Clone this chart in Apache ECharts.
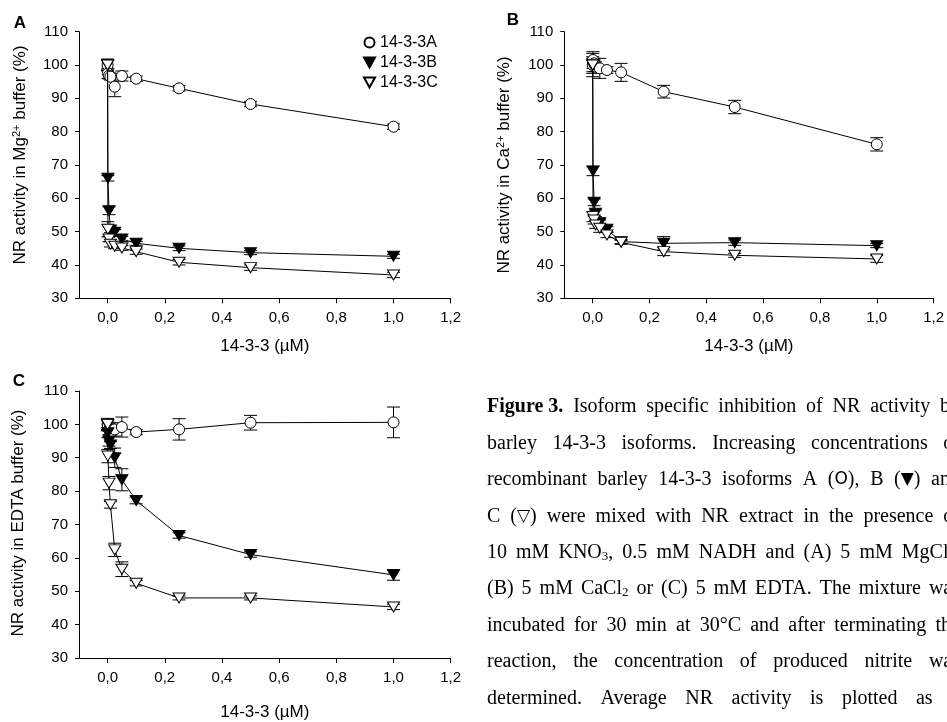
<!DOCTYPE html>
<html>
<head>
<meta charset="utf-8">
<script src="https://cdn.jsdelivr.net/npm/echarts@6.0.0/dist/echarts.min.js"></script>
<style>
  html, body { margin: 0; padding: 0; background: #fff; }
  #chart { width: 947px; height: 722px; }
</style>
</head>
<body>
<div id="chart"></div>
<script>
// 14-3-3 concentrations (µM)
const concentration = [0, 0.001, 0.005, 0.01, 0.025, 0.05, 0.1, 0.25, 0.5, 1.0];

// (A) Mg2+ buffer: NR activity (%) and SD
const mgA    = [100, 97.5, 96.8, 96.5, 93.5, 96.7, 95.9, 93.0, 88.3, 81.5];
const mgAErr = [1.5, 1.5, 1.0, 1.0, 3.0, 1.5, 0.8, 0.8, 0.8, 0.8];
const mgB    = [100, 66.0, 56.3, 50.5, 49.8, 47.8, 46.5, 45.0, 43.7, 42.6];
const mgBErr = [1.8, 0.8, 1.2, 0.8, 0.8, 0.8, 0.6, 0.7, 0.6, 0.6];
const mgC    = [100, 50.7, 47.8, 46.2, 45.6, 45.1, 44.0, 40.8, 39.2, 37.0];
const mgCErr = [1.5, 2.3, 0.8, 0.8, 0.7, 0.7, 0.8, 0.8, 0.8, 0.8];

// (B) Ca2+ buffer
const caA    = [100, 101.5, 100.5, 99.5, 99.0, 98.5, 97.8, 92.0, 87.4, 76.2];
const caAErr = [3.5, 2.5, 1.5, 1.5, 3.0, 1.0, 2.7, 1.9, 2.0, 2.0];
const caB    = [100, 68.2, 58.8, 55.5, 52.7, 50.7, 47.0, 46.5, 46.7, 45.8];
const caBErr = [2.5, 1.4, 1.0, 1.0, 0.8, 0.8, 0.6, 2.0, 0.8, 0.6];
const caC    = [100, 54.5, 53.5, 52.0, 51.0, 49.0, 46.8, 44.0, 42.9, 41.8];
const caCErr = [2.0, 1.5, 1.2, 1.0, 1.2, 0.8, 0.6, 1.2, 0.6, 1.0];

// (C) EDTA buffer
const edtaA    = [100, 99.5, 98.5, 97.5, 98.5, 99.2, 97.7, 98.5, 100.5, 100.6];
const edtaAErr = [1.8, 1.5, 1.5, 1.0, 2.0, 3.0, 0.8, 3.2, 2.2, 4.6];
const edtaB    = [100, 97.5, 95.0, 93.8, 90.0, 83.4, 77.2, 66.7, 61.0, 54.9];
const edtaBErr = [1.5, 1.5, 1.5, 1.0, 2.9, 3.3, 1.0, 0.8, 0.8, 1.6];
const edtaC    = [100, 90.5, 82.4, 75.9, 62.4, 56.6, 52.4, 48.0, 48.0, 45.3];
const edtaCErr = [1.5, 2.0, 2.0, 1.0, 2.0, 2.2, 0.8, 0.6, 0.6, 0.8];

const seriesNames = ['14-3-3A', '14-3-3B', '14-3-3C'];
const xTickValues = [0, 0.2, 0.4, 0.6, 0.8, 1.0, 1.2];
const xAxisTitle = '14-3-3 (µM)';
const panelLetters = ['A', 'B', 'C'];
const yAxisTitles = [
  'NR activity in Mg{sup|2+} buffer (%)',
  'NR activity in Ca{sup|2+} buffer (%)',
  'NR activity in EDTA buffer (%)'
];

// Figure legend text, one array of words per printed line
const captionLines = [
  ['{b|Figure 3.}', 'Isoform', 'specific', 'inhibition', 'of', 'NR', 'activity', 'by'],
  ['barley', '14-3-3', 'isoforms.', 'Increasing', 'concentrations', 'of'],
  ['recombinant', 'barley', '14-3-3', 'isoforms', 'A', '({s|O}),', 'B', '({s|▼})', 'and'],
  ['C', '({s|▽})', 'were', 'mixed', 'with', 'NR', 'extract', 'in', 'the', 'presence', 'of'],
  ['10', 'mM', 'KNO{sub|3},', '0.5', 'mM', 'NADH', 'and', '(A)', '5', 'mM', 'MgCl{sub|2},'],
  ['(B)', '5', 'mM', 'CaCl{sub|2}', 'or', '(C)', '5', 'mM', 'EDTA.', 'The', 'mixture', 'was'],
  ['incubated', 'for', '30', 'min', 'at', '30°C', 'and', 'after', 'terminating', 'the'],
  ['reaction,', 'the', 'concentration', 'of', 'produced', 'nitrite', 'was'],
  ['determined.', 'Average', 'NR', 'activity', 'is', 'plotted', 'as', 'a']
];

// ---------- layout & styles ----------
const SANS = 'Liberation Sans, Arial, sans-serif';
const SERIF = 'Liberation Serif, Times New Roman, serif';
const TRI = 'path://M0,0L10,0L5,9Z';

const panelValues = [[mgA, mgB, mgC], [caA, caB, caC], [edtaA, edtaB, edtaC]];
const panelErrors = [[mgAErr, mgBErr, mgCErr], [caAErr, caBErr, caCErr], [edtaAErr, edtaBErr, edtaCErr]];

const panelLayout = [
  { grid: { left: 79, top: 31.7, width: 371.7, height: 266.6 }, nameGap: 40, letter: [20, 23], title: [20, 155] },
  { grid: { left: 564.3, top: 31.7, width: 371.4, height: 266.6 }, nameGap: 40, letter: [513, 20], title: [504, 165] },
  { grid: { left: 79, top: 391, width: 371.7, height: 267.3 }, nameGap: 46, letter: [19, 381], title: [18, 523] }
];

const markers = [
  { symbol: 'circle', size: 11, fill: '#fff' },
  { symbol: TRI, size: [12, 10], fill: '#000' },
  { symbol: TRI, size: [12, 10], fill: '#fff' }
];

function errorBar(params, api) {
  const x = api.value(0);
  const top = api.coord([x, api.value(2)]);
  const bot = api.coord([x, api.value(1)]);
  const hw = 6.5;
  const st = { stroke: '#000', lineWidth: 1 };
  return {
    type: 'group',
    children: [
      { type: 'line', shape: { x1: top[0], y1: top[1], x2: bot[0], y2: bot[1] }, style: st },
      { type: 'line', shape: { x1: top[0] - hw, y1: top[1], x2: top[0] + hw, y2: top[1] }, style: st },
      { type: 'line', shape: { x1: bot[0] - hw, y1: bot[1], x2: bot[0] + hw, y2: bot[1] }, style: st }
    ]
  };
}

const grids = [], xAxes = [], yAxes = [], series = [], graphics = [];

panelLayout.forEach((p, pi) => {
  grids.push(Object.assign({ containLabel: false }, p.grid));
  xAxes.push({
    gridIndex: pi, type: 'value', min: -0.1, max: 1.2,
    axisLine: { onZero: false, lineStyle: { color: '#000', width: 1 } },
    axisTick: { customValues: xTickValues, length: 5, lineStyle: { color: '#000' } },
    axisLabel: {
      customValues: xTickValues, margin: 12, fontSize: 15, fontFamily: SANS, color: '#000',
      formatter: v => v.toFixed(1).replace('.', ',')
    },
    splitLine: { show: false },
    name: xAxisTitle, nameLocation: 'middle', nameGap: p.nameGap,
    nameTextStyle: { fontSize: 17, fontFamily: SANS, color: '#000' }
  });
  yAxes.push({
    gridIndex: pi, type: 'value', min: 30, max: 110, interval: 10,
    axisLine: { show: true, onZero: false, lineStyle: { color: '#000', width: 1 } },
    axisTick: { show: true, length: 4, lineStyle: { color: '#000' } },
    axisLabel: { margin: 11, fontSize: 15, fontFamily: SANS, color: '#000' },
    splitLine: { show: false }
  });

  panelValues[pi].forEach((vals, si) => {
    const errs = panelErrors[pi][si];
    series.push({
      type: 'custom', name: seriesNames[si] + ' SD',
      xAxisIndex: pi, yAxisIndex: pi, silent: true, z: 2,
      encode: { x: 0, y: [1, 2] },
      data: concentration.map((c, k) => [c, vals[k] - errs[k], vals[k] + errs[k]]),
      renderItem: errorBar
    });
    series.push({
      type: 'line', name: seriesNames[si],
      xAxisIndex: pi, yAxisIndex: pi, z: 3 + si,
      data: concentration.map((c, k) => [c, vals[k]]),
      symbol: markers[si].symbol, symbolSize: markers[si].size,
      lineStyle: { color: '#000', width: 1 },
      itemStyle: { color: markers[si].fill, borderColor: '#000', borderWidth: 1 },
      emphasis: { disabled: true }
    });
  });

  graphics.push({
    type: 'text', x: p.letter[0], y: p.letter[1],
    style: { text: panelLetters[pi], fontSize: 17, fontWeight: 'bold', fontFamily: SANS,
             fill: '#000', align: 'center', verticalAlign: 'middle' }
  });
  graphics.push({
    type: 'text', x: p.title[0], y: p.title[1], rotation: Math.PI / 2,
    style: {
      text: yAxisTitles[pi], fontSize: 17, fontFamily: SANS, fill: '#000',
      align: 'center', verticalAlign: 'middle',
      rich: { sup: { fontSize: 11, fontFamily: SANS, fill: '#000', verticalAlign: 'top', lineHeight: 8 } }
    }
  });
});

// ---------- justified figure legend ----------
const capFont = { size: 20, family: SERIF };
const capRich = {
  b:   { fontSize: 20, fontWeight: 'bold', fontFamily: SERIF, fill: '#000' },
  s:   { fontSize: 17, fontFamily: 'DejaVu Sans, sans-serif', fill: '#000' },
  sub: { fontSize: 13, fontFamily: SERIF, fill: '#000', verticalAlign: 'bottom', lineHeight: 6 }
};
const ctx = document.createElement('canvas').getContext('2d');
function fontOf(st) {
  return (st.fontWeight || 'normal') + ' ' + st.fontSize + 'px ' + st.fontFamily;
}
function wordWidth(word) {
  let w = 0, last = 0;
  const re = /\{(\w+)\|([^}]*)\}/g;
  let m;
  const plain = t => { ctx.font = fontOf({ fontSize: capFont.size, fontFamily: capFont.family }); w += ctx.measureText(t).width; };
  while ((m = re.exec(word)) !== null) {
    if (m.index > last) plain(word.slice(last, m.index));
    ctx.font = fontOf(capRich[m[1]]);
    w += ctx.measureText(m[2]).width;
    last = re.lastIndex;
  }
  if (last < word.length) plain(word.slice(last));
  return w;
}
const capLeft = 487, capRight = 960, capTop = 407.2, capStep = 36.4;
captionLines.forEach((words, li) => {
  const widths = words.map(wordWidth);
  const total = widths.reduce((a, b) => a + b, 0);
  const gap = (capRight - capLeft - total) / (words.length - 1);
  let x = capLeft;
  words.forEach((w, wi) => {
    graphics.push({
      type: 'text', x: x, y: capTop + li * capStep, silent: true,
      style: { text: w, fontSize: capFont.size, fontFamily: capFont.family, fill: '#000',
               align: 'left', verticalAlign: 'middle', rich: capRich }
    });
    x += widths[wi] + gap;
  });
});

const chart = echarts.init(document.getElementById('chart'), null, { renderer: 'canvas' });
chart.setOption({
  animation: false,
  backgroundColor: '#fff',
  grid: grids,
  xAxis: xAxes,
  yAxis: yAxes,
  legend: {
    data: [
      { name: seriesNames[0], icon: 'circle' },
      { name: seriesNames[1], icon: TRI },
      { name: seriesNames[2], icon: TRI }
    ],
    orient: 'vertical', left: 358, top: 29.5,
    itemWidth: 11, itemHeight: 10, itemGap: 4, selectedMode: false,
    textStyle: { fontSize: 16, fontFamily: SANS, color: '#000', lineHeight: 16 }
  },
  series: series,
  graphic: graphics
});
</script>
</body>
</html>
